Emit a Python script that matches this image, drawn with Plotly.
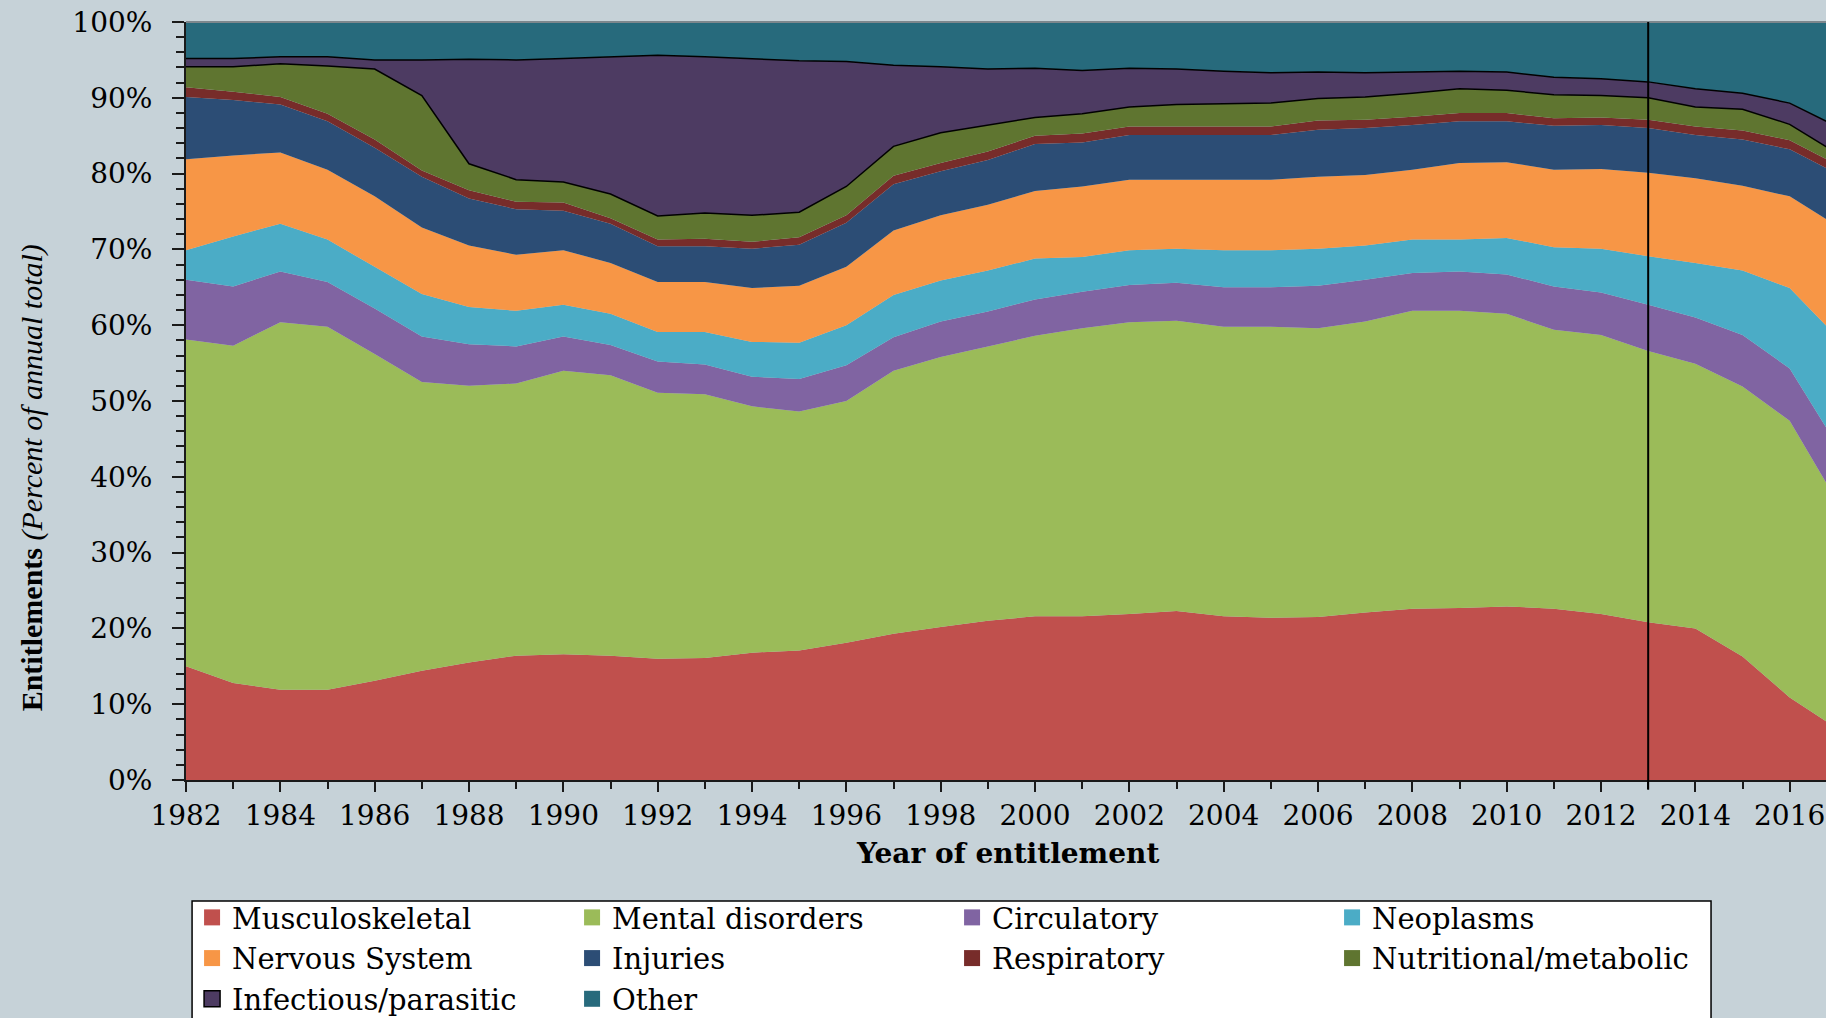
import plotly.graph_objects as go

years = list(range(1982, 2018))

# share of annual entitlements by diagnosis group, % (bottom to top of the stack)
musculoskeletal = [15.0, 12.8, 11.9, 11.9, 13.1, 14.4, 15.5, 16.4, 16.6, 16.4, 16.0, 16.1,
                   16.8, 17.1, 18.1, 19.3, 20.2, 21.0, 21.6, 21.6, 21.9, 22.3, 21.6, 21.4,
                   21.5, 22.1, 22.6, 22.7, 22.9, 22.6, 21.9, 20.8, 20.0, 16.3, 10.9, 6.8]
mental = [43.1, 44.5, 48.5, 47.9, 43.1, 38.1, 36.5, 35.9, 37.4, 37.0, 35.1, 34.8,
          32.5, 31.5, 31.9, 34.7, 35.6, 36.2, 37.0, 38.0, 38.5, 38.3, 38.2, 38.4,
          38.1, 38.4, 39.3, 39.2, 38.6, 36.8, 36.8, 35.8, 34.9, 35.6, 36.5, 30.0]
circulatory = [7.9, 7.8, 6.7, 5.9, 6.0, 6.0, 5.5, 4.9, 4.5, 4.0, 4.1, 3.9,
               3.9, 4.3, 4.7, 4.4, 4.7, 4.6, 4.8, 4.8, 4.9, 5.0, 5.2, 5.2,
               5.6, 5.5, 5.0, 5.2, 5.2, 5.7, 5.6, 6.1, 6.1, 6.8, 6.9, 7.4]
neoplasms = [3.9, 6.6, 6.3, 5.6, 5.5, 5.6, 4.9, 4.7, 4.2, 4.1, 3.9, 4.3,
             4.6, 4.8, 5.3, 5.6, 5.4, 5.4, 5.4, 4.6, 4.6, 4.5, 4.9, 4.9,
             4.9, 4.5, 4.4, 4.2, 4.8, 5.2, 5.8, 6.4, 7.2, 8.5, 10.6, 14.3]
nervous = [12.0, 10.7, 9.4, 9.2, 9.3, 8.8, 8.1, 7.4, 7.2, 6.7, 6.6, 6.6,
           7.1, 7.5, 7.7, 8.5, 8.6, 8.7, 8.9, 9.3, 9.3, 9.1, 9.3, 9.3,
           9.5, 9.3, 9.2, 10.1, 10.0, 10.2, 10.5, 11.0, 11.2, 11.2, 12.1, 14.6]
injuries = [8.2, 7.3, 6.3, 6.4, 6.4, 6.7, 6.2, 6.0, 5.2, 5.2, 4.7, 4.7,
            5.2, 5.4, 5.8, 6.1, 5.8, 5.9, 6.2, 5.8, 5.9, 5.9, 5.9, 5.9,
            6.2, 6.2, 5.9, 5.5, 5.4, 5.8, 5.8, 5.9, 5.7, 6.1, 6.2, 6.9]
respiratory = [1.3, 1.1, 1.0, 1.0, 1.1, 0.8, 1.1, 1.0, 1.1, 0.7, 0.9, 1.0,
               0.9, 1.0, 1.0, 1.1, 1.1, 1.1, 1.1, 1.2, 1.1, 1.1, 1.1, 1.1,
               1.2, 1.1, 1.1, 1.1, 1.1, 1.0, 1.0, 1.1, 1.1, 1.2, 1.2, 1.2]
nutritional = [2.7, 3.3, 4.4, 6.3, 9.3, 9.9, 3.5, 2.9, 2.7, 3.2, 3.1, 3.4,
               3.5, 3.3, 3.8, 3.9, 4.0, 3.5, 2.4, 2.6, 2.6, 2.9, 3.0, 3.1,
               2.9, 3.0, 3.1, 3.2, 3.0, 3.1, 2.9, 2.9, 2.6, 2.8, 2.1, 1.5]
infectious = [1.1, 1.1, 0.9, 1.2, 1.2, 4.7, 13.8, 15.8, 16.3, 18.1, 21.2, 20.6,
              20.6, 20.0, 16.5, 10.7, 8.7, 7.4, 6.5, 5.7, 5.1, 4.7, 4.3, 4.0,
              3.5, 3.2, 2.8, 2.3, 2.4, 2.3, 2.2, 2.1, 2.4, 2.1, 2.8, 3.5]
other = [4.8, 4.8, 4.6, 4.6, 5.0, 5.0, 4.9, 5.0, 4.8, 4.6, 4.4, 4.6,
         4.9, 5.1, 5.2, 5.7, 5.9, 6.2, 6.1, 6.4, 6.1, 6.2, 6.5, 6.7,
         6.6, 6.7, 6.6, 6.5, 6.6, 7.3, 7.5, 7.9, 8.8, 9.4, 10.7, 13.8]

series = [
    ("Musculoskeletal", musculoskeletal, "#c0504d"),
    ("Mental disorders", mental, "#9bbb59"),
    ("Circulatory", circulatory, "#8064a2"),
    ("Neoplasms", neoplasms, "#4bacc6"),
    ("Nervous System", nervous, "#f79646"),
    ("Injuries", injuries, "#2c4d75"),
    ("Respiratory", respiratory, "#772c2a"),
    ("Nutritional/metabolic", nutritional, "#5f7530"),
    ("Infectious/parasitic", infectious, "#4d3b62"),
    ("Other", other, "#276a7c"),
]
outlined = ("Nutritional/metabolic", "Infectious/parasitic")

BG = "#c6d2d8"
AX = "#1a1a1a"
WIDE = "DejaVu Serif, serif"
TIMES = "Liberation Serif, Times New Roman, serif"

fig = go.Figure()
for name, vals, color in series:
    edge = name in outlined
    fig.add_trace(go.Scatter(
        x=years, y=vals, name=name, stackgroup="one",
        mode="lines" if edge else "none", fillcolor=color,
        line=dict(color="black", width=1.5) if edge else dict(width=0),
        showlegend=False))

# square legend swatches
for name, vals, color in series:
    fig.add_trace(go.Scatter(
        x=[None], y=[None], mode="markers", name=name,
        marker=dict(symbol="square", size=16, color=color,
                    line=dict(color="black",
                              width=1.5 if name == "Infectious/parasitic" else 0))))

# legend frame (runs off the bottom of the page like the original)
fig.add_shape(type="rect", xref="paper", yref="paper", x0=0.0037, x1=0.9299,
              y0=-0.1596, y1=-0.36, fillcolor="white",
              line=dict(color="black", width=1.5), layer="above")
fig.add_shape(type="line", xref="paper", yref="paper", x0=0, x1=1, y0=1, y1=1,
              line=dict(color="#7d878d", width=2))
fig.add_shape(type="line", xref="x", yref="paper", x0=2013, x1=2013,
              y0=-0.013, y1=1, line=dict(color="black", width=2))

fig.add_annotation(text="<b>Year of entitlement</b>", xref="paper", yref="paper",
                   x=0.501, y=-0.0976, xanchor="center", yanchor="middle",
                   showarrow=False, font=dict(family=WIDE, size=28))
fig.add_annotation(text="<b>Entitlements</b> <i>(Percent of annual total)</i>",
                   xref="paper", yref="paper", x=-0.0939, y=0.398, textangle=-90,
                   xanchor="center", yanchor="middle", showarrow=False,
                   font=dict(family=TIMES, size=30))

fig.update_layout(
    width=1826, height=1018,
    paper_bgcolor=BG, plot_bgcolor=BG,
    margin=dict(l=186, r=0, t=22, b=238, autoexpand=False),
    font=dict(family=WIDE, color="black", size=28),
    legend=dict(orientation="h", x=0.0037, y=-0.1478, xanchor="left", yanchor="top",
                bgcolor="rgba(0,0,0,0)", borderwidth=0,
                font=dict(family=WIDE, size=29), entrywidth=335,
                entrywidthmode="pixels", traceorder="normal"),
    xaxis=dict(range=[1982, 2016.77], tick0=1982, dtick=2, ticks="outside",
               ticklen=10, tickwidth=2, tickcolor=AX, showline=True, linecolor=AX,
               linewidth=2, showgrid=False, zeroline=False, tickfont=dict(size=28),
               ticklabelstandoff=-1, automargin=False,
               minor=dict(tick0=1982, dtick=1, ticks="outside", ticklen=7,
                          tickwidth=2, tickcolor=AX, showgrid=False)),
    yaxis=dict(range=[0, 100], dtick=10, ticksuffix="%", ticks="outside",
               ticklen=12, tickwidth=2, tickcolor=AX, showline=True, linecolor=AX,
               linewidth=2, showgrid=False, zeroline=False, tickfont=dict(size=28),
               ticklabelstandoff=14, automargin=False,
               minor=dict(dtick=2, ticks="outside", ticklen=8, tickwidth=2,
                          tickcolor=AX, showgrid=False)),
)

fig.write_html("out.html", config={"displayModeBar": False},
               post_script="document.body.style.margin='0';")
